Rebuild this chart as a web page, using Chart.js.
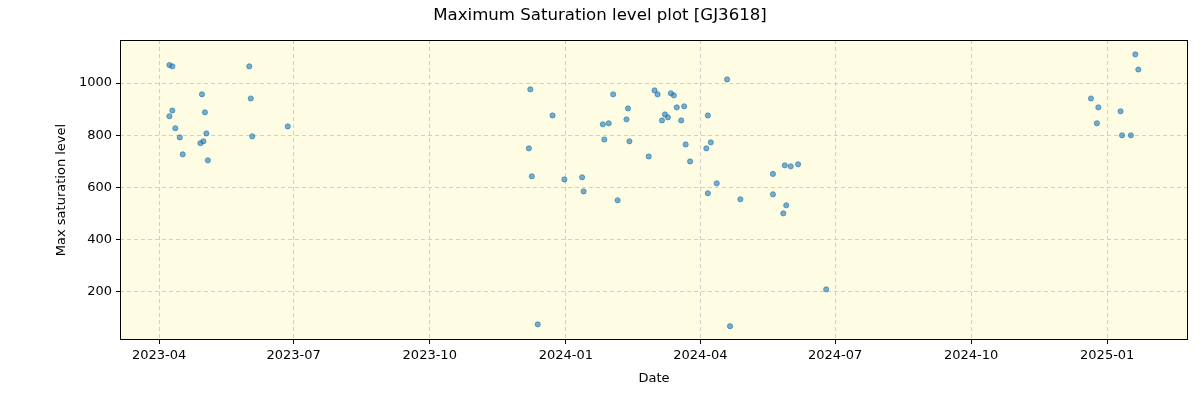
<!DOCTYPE html>
<html>
<head>
<meta charset="utf-8">
<script src="https://cdn.jsdelivr.net/npm/chart.js@4/dist/chart.umd.min.js"></script>
<style>
  html, body { margin: 0; padding: 0; background: #fff; }
  #wrap { width: 1200px; height: 400px; }
</style>
</head>
<body>
<div id="wrap"><canvas id="satChart" width="1200" height="400"></canvas></div>
<script>
var obsDates = [
  '2023-04-08', '2023-04-10', '2023-04-08', '2023-04-10', '2023-04-12', '2023-04-15', '2023-04-17',
  '2023-04-30', '2023-05-02', '2023-05-03', '2023-05-01', '2023-04-29', '2023-05-04',
  '2023-06-01', '2023-06-02', '2023-06-03', '2023-06-27',
  '2023-12-08', '2023-12-23', '2023-12-07', '2023-12-09', '2023-12-13', '2023-12-31',
  '2024-01-12', '2024-01-13', '2024-02-05', '2024-02-02', '2024-01-26', '2024-01-27', '2024-01-30',
  '2024-02-12', '2024-02-11', '2024-02-13', '2024-02-26', '2024-03-01', '2024-03-03', '2024-03-06',
  '2024-03-08', '2024-03-10', '2024-03-12', '2024-03-14', '2024-03-16', '2024-03-19', '2024-03-21',
  '2024-03-22', '2024-03-25', '2024-04-05', '2024-04-06', '2024-04-08', '2024-04-06', '2024-04-12',
  '2024-04-19', '2024-04-21', '2024-04-28', '2024-05-20', '2024-05-20', '2024-05-28', '2024-05-27',
  '2024-05-29', '2024-06-01', '2024-06-06', '2024-06-25',
  '2024-12-21', '2024-12-25', '2024-12-26', '2025-01-10', '2025-01-11', '2025-01-17', '2025-01-20', '2025-01-22'
];

// max saturation level for each date
var satLevels = [
  1069, 1064, 873, 895, 827, 792, 727,
  957, 888, 807, 777, 770, 704,
  1064, 941, 796, 834,
  976, 876, 750, 643, 76, 631,
  639, 585, 551, 957, 842, 784, 846,
  903, 861, 777, 719, 972, 957, 857,
  880, 869, 961, 953, 907, 857, 911,
  765, 700, 750, 876, 773, 578, 616,
  1014, 69, 555, 652, 574, 685, 501,
  532, 681, 689, 210,
  941, 846, 907, 892, 800, 800, 1110, 1052
];

var tickLabels = ['2023-04', '2023-07', '2023-10', '2024-01', '2024-04', '2024-07', '2024-10', '2025-01'];
var yTicks = [200, 400, 600, 800, 1000];
var chartTitle = 'Maximum Saturation level plot [GJ3618]';

// days since epoch
function toDay(s) {
  var p = s.split('-');
  return Date.UTC(+p[0], +p[1] - 1, p[2] ? +p[2] : 1) / 86400000;
}

var points = obsDates.map(function (d, i) {
  return { x: toDay(d), y: satLevels[i] };
});
var tickDays = tickLabels.map(toDay);
var start = toDay('2023-04-01');
var font = 'DejaVu Sans';

// plot background, frame and figure title (centred on the whole canvas)
var framePlugin = {
  id: 'frame',
  beforeDraw: function (chart) {
    var a = chart.chartArea, ctx = chart.ctx;
    ctx.save();
    ctx.fillStyle = '#fefde3';
    ctx.fillRect(a.left, a.top, a.right - a.left, a.bottom - a.top);
    ctx.restore();
  },
  afterDraw: function (chart) {
    var a = chart.chartArea, ctx = chart.ctx;
    ctx.save();
    ctx.strokeStyle = '#000';
    ctx.lineWidth = 1;
    ctx.strokeRect(a.left + 0.5, a.top + 0.5, a.right - a.left - 1, a.bottom - a.top - 1);
    ctx.fillStyle = '#000';
    ctx.font = '16.6px "' + font + '"';
    ctx.textAlign = 'center';
    ctx.textBaseline = 'middle';
    ctx.fillText(chartTitle, chart.width / 2, 16);
    ctx.restore();
  }
};

var gridOpts = {
  color: '#cfcfcf',
  tickLength: 4,
  tickColor: '#000',
  tickBorderDash: []
};
new Chart(document.getElementById('satChart'), {
  type: 'scatter',
  data: {
    datasets: [{
      data: points,
      backgroundColor: 'rgba(31,119,180,0.6)',
      borderColor: 'rgba(31,119,180,0.6)',
      borderWidth: 1,
      pointRadius: 2.6,
      pointHoverRadius: 2.6
    }]
  },
  options: {
    responsive: false,
    animation: false,
    layout: { padding: { top: 40, left: 54, right: 12, bottom: 14 } },
    plugins: {
      legend: { display: false },
      tooltip: { enabled: false },
      title: { display: false }
    },
    scales: {
      x: {
        type: 'linear',
        min: start - 26.4,
        max: start + 695.6,
        afterBuildTicks: function (scale) {
          scale.ticks = tickDays.map(function (v) { return { value: v }; });
        },
        afterFit: function (scale) { scale.height = 46; },
        ticks: {
          color: '#000',
          font: { family: font, size: 13 },
          padding: 4,
          maxRotation: 0,
          autoSkip: false,
          callback: function (v) {
            var i = tickDays.indexOf(v);
            return i >= 0 ? tickLabels[i] : '';
          }
        },
        grid: gridOpts,
        border: { display: false, dash: [4, 3] },
        title: {
          display: true,
          text: 'Date',
          color: '#000',
          font: { family: font, size: 13 },
          padding: { top: 2, bottom: 0 }
        }
      },
      y: {
        min: 16,
        max: 1165,
        afterBuildTicks: function (scale) {
          scale.ticks = yTicks.map(function (v) { return { value: v }; });
        },
        afterFit: function (scale) { scale.width = 66; },
        ticks: {
          color: '#000',
          font: { family: font, size: 13 },
          padding: 4,
          callback: function (v) { return String(v); }
        },
        grid: gridOpts,
        border: { display: false, dash: [4, 3] },
        title: {
          display: true,
          text: 'Max saturation level',
          color: '#000',
          font: { family: font, size: 13 },
          padding: { top: 0, bottom: 0 }
        }
      }
    }
  },
  plugins: [framePlugin]
});
</script>
</body>
</html>
